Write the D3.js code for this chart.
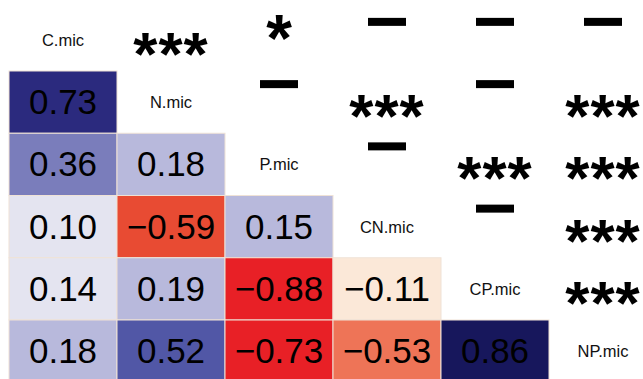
<!DOCTYPE html>
<html>
<head>
<meta charset="utf-8">
<script src="https://cdn.jsdelivr.net/npm/d3@7"></script>
<style>
  html, body { margin: 0; padding: 0; background: #fff; }
  svg { display: block; }
  text { font-family: "Liberation Sans", Arial, sans-serif; }
</style>
</head>
<body>
<svg id="chart" width="643" height="379"></svg>
<script>
// Variables of the correlation matrix (diagonal labels)
const variables = ["C.mic", "N.mic", "P.mic", "CN.mic", "CP.mic", "NP.mic"];

// Lower triangle: correlation coefficients, row by row
const corrRow1 = [0.73];
const corrRow2 = [0.36, 0.18];
const corrRow3 = [0.10, -0.59, 0.15];
const corrRow4 = [0.14, 0.19, -0.88, -0.11];
const corrRow5 = [0.18, 0.52, -0.73, -0.53, 0.86];
const lowerRows = [[], corrRow1, corrRow2, corrRow3, corrRow4, corrRow5];

// Upper triangle: significance marks ("-" = not significant), row by row
const sigRow0 = ["***", "*", "-", "-", "-"];
const sigRow1 = ["-", "***", "-", "***"];
const sigRow2 = ["-", "***", "***"];
const sigRow3 = ["-", "***"];
const sigRow4 = ["***"];
const upperRows = [sigRow0, sigRow1, sigRow2, sigRow3, sigRow4, []];

// Colour bins for the coefficients
const colorBreaks = [-0.7, -0.56, -0.3, 0, 0.145, 0.3, 0.45, 0.6, 0.8];
const colorBins = ["#e82026", "#e84b33", "#ee7457", "#fbe8d8", "#e4e4f0",
                   "#b8b9dc", "#7a7dbb", "#5157a6", "#2b2a7e", "#17175c"];

const svg = d3.select("#chart");

const x = d3.scaleBand().domain(variables).range([9, 9 + 6 * 108]).padding(0);
const y = d3.scaleBand().domain(variables).range([8.75, 8.75 + 6 * 62.25]).padding(0);
const color = d3.scaleThreshold().domain(colorBreaks).range(colorBins);
const fmt = v => (v < 0 ? "\u2212" : "") + d3.format(".2f")(Math.abs(v));

// Build cell records
const lower = [], upper = [];
lowerRows.forEach((row, i) => row.forEach((v, j) => lower.push({ r: variables[i], c: variables[j], v })));
upperRows.forEach((row, i) => row.forEach((s, k) => upper.push({ r: variables[i], c: variables[i + 1 + k], s })));

const cx = d => x(d.c) + x.bandwidth() / 2;
const cy = d => y(d.r) + y.bandwidth() / 2;

// Coloured coefficient cells
const cells = svg.append("g").selectAll("g").data(lower).join("g");
cells.append("rect")
  .attr("x", d => x(d.c)).attr("y", d => y(d.r))
  .attr("width", x.bandwidth()).attr("height", y.bandwidth())
  .attr("fill", d => color(d.v))
  .attr("stroke", "#efe2d6").attr("stroke-width", 1);
cells.append("text")
  .attr("x", cx).attr("y", d => cy(d) + 12)
  .attr("text-anchor", "middle")
  .attr("font-size", 35)
  .attr("fill", "#000")
  .text(d => fmt(d.v));

// Diagonal variable names
svg.append("g").selectAll("text").data(variables).join("text")
  .attr("x", d => x(d) + x.bandwidth() / 2)
  .attr("y", d => y(d) + y.bandwidth() / 2 + 6)
  .attr("text-anchor", "middle")
  .attr("font-size", 16.5)
  .attr("fill", "#111")
  .text(d => d);

// Significance stars
const stars = upper.filter(d => d.s !== "-");
svg.append("g").selectAll("text").data(stars).join("text")
  .attr("x", cx)
  .attr("y", d => cy(d) + (d.s === "*" ? 21 : 35))
  .attr("text-anchor", "middle")
  .attr("font-size", d => d.s === "*" ? 66 : 62)
  .attr("font-weight", "bold")
  .attr("letter-spacing", d => d.s === "*" ? 0 : 1)
  .attr("fill", "#000")
  .text(d => d.s);

// Non-significant dashes
const dashes = upper.filter(d => d.s === "-");
svg.append("g").selectAll("rect").data(dashes).join("rect")
  .attr("x", d => cx(d) - 19)
  .attr("y", d => cy(d) - 22)
  .attr("width", 38).attr("height", 8)
  .attr("fill", "#000");
</script>
</body>
</html>
